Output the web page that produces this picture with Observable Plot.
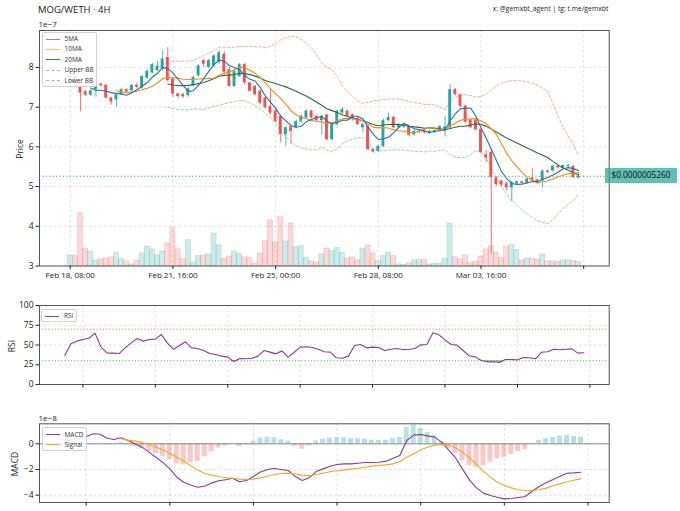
<!DOCTYPE html>
<html><head><meta charset="utf-8">
<script src="https://cdn.jsdelivr.net/npm/d3@7"></script>
<script src="https://cdn.jsdelivr.net/npm/@observablehq/plot@0.6"></script>
<style>
body{margin:0;background:#fff;}
#root{position:relative;width:680px;height:511px;overflow:hidden;font-family:"Open Sans",sans-serif;color:#222;}
.t{position:absolute;line-height:1;white-space:nowrap;}
.rot{position:absolute;line-height:1;white-space:nowrap;transform:translate(-50%,-50%) rotate(-90deg);font-size:8.5px;}
.leg{position:absolute;background:rgba(255,255,255,0.85);border:1px solid #d0d0d0;border-radius:2px;box-sizing:border-box;}
.le{position:absolute;left:0;height:10px;font-size:6.5px;line-height:10px;color:#333;}
.le i{position:absolute;left:3px;top:4.5px;width:14px;height:0;border-top-width:1.7px;border-top-style:solid;}
.le span{position:absolute;left:22px;top:0;}
svg{position:absolute;left:0;}
</style></head><body><div id="root"></div>
<script>
// ---- DATA (price values in units of 1e-7 WETH, MACD in 1e-8) ----
const open  = [7.62,7.80,7.52,7.39,7.30,7.44,7.58,7.55,7.23,7.18,7.31,7.44,7.41,7.55,7.48,7.73,7.86,7.92,7.96,8.25,
               7.71,7.33,7.32,7.29,7.54,7.79,8.17,8.00,8.04,8.12,8.33,7.94,7.52,7.77,8.07,7.61,7.52,7.40,7.23,7.02,
               6.90,6.77,6.31,6.50,6.48,6.64,6.73,6.90,6.77,6.66,6.80,6.18,6.56,6.85,6.90,6.81,6.72,6.48,6.52,5.93,
               5.89,6.01,6.66,6.74,6.48,6.50,6.52,6.30,6.36,6.40,6.34,6.36,6.39,6.39,6.48,7.44,7.31,7.03,6.68,6.66,
               6.43,5.80,5.86,5.22,5.14,5.07,4.97,5.07,5.12,5.08,5.22,5.17,5.14,5.39,5.39,5.51,5.47,5.50,5.51,5.22];
const high  = [7.85,7.83,7.65,7.42,7.44,7.55,7.60,7.57,7.25,7.33,7.47,7.46,7.57,7.60,7.80,7.95,8.10,8.15,8.42,8.50,
               7.75,7.36,7.35,7.50,7.78,8.07,8.20,8.20,8.32,8.43,8.40,8.00,7.95,8.10,8.10,7.63,7.55,7.42,7.25,7.45,
               6.95,6.80,6.50,6.55,6.66,6.80,6.93,6.93,6.80,6.80,6.82,6.60,6.93,7.00,6.93,6.83,6.74,6.60,6.55,5.96,
               6.04,6.70,6.85,6.77,6.60,6.58,6.55,6.42,6.43,6.43,6.41,6.43,6.53,6.77,7.56,7.47,7.33,7.05,6.70,6.70,
               6.46,5.92,5.93,5.25,5.16,5.10,5.13,5.14,5.14,5.21,5.46,5.19,5.42,5.42,5.53,5.53,5.55,5.56,5.53,5.35];
const low   = [7.58,7.50,6.88,7.27,7.27,7.25,7.50,7.20,7.05,7.00,7.29,7.35,7.38,7.45,7.45,7.70,7.83,7.90,7.90,7.62,
               7.25,7.22,7.22,7.25,7.50,7.76,8.00,7.97,8.00,8.08,7.80,7.50,7.50,7.75,7.55,7.38,7.28,7.05,6.95,6.80,
               6.60,6.10,6.02,6.06,6.45,6.60,6.70,6.70,6.62,6.30,6.15,6.15,6.53,6.82,6.75,6.65,6.53,6.35,5.90,5.84,
               5.86,5.98,6.63,6.45,6.45,6.46,6.25,6.27,6.33,6.32,6.31,6.33,6.37,6.25,6.45,7.28,6.98,6.58,6.45,6.40,
               5.82,5.60,3.30,5.00,5.00,4.88,4.62,5.05,5.05,5.06,5.12,5.05,4.97,5.33,5.37,5.45,5.45,5.48,5.20,5.18];
const close = [7.80,7.55,7.35,7.30,7.41,7.52,7.54,7.23,7.13,7.31,7.44,7.38,7.55,7.50,7.77,7.90,8.07,8.03,8.21,7.67,
               7.33,7.27,7.26,7.46,7.75,8.04,8.08,8.17,8.29,8.37,7.88,7.52,7.90,8.07,7.61,7.40,7.31,7.10,6.98,6.85,
               6.64,6.31,6.48,6.39,6.64,6.77,6.90,6.73,6.66,6.77,6.18,6.56,6.90,6.94,6.77,6.69,6.56,6.56,5.93,5.87,
               6.01,6.66,6.74,6.48,6.55,6.56,6.29,6.39,6.40,6.35,6.39,6.41,6.51,6.50,7.44,7.31,7.02,6.62,6.48,6.43,
               5.86,5.72,5.23,5.05,5.04,4.97,5.10,5.12,5.08,5.19,5.14,5.08,5.39,5.35,5.51,5.47,5.53,5.53,5.22,5.26];
const volume = [27,25,133,44,35,14,17,19,22,34,18,12,4,14,32,49,42,27,37,57,
                96,42,17,65,9,25,26,29,82,52,19,24,37,30,22,20,6,31,63,115,
                59,123,62,107,47,50,20,12,9,30,44,38,45,33,19,22,14,44,52,32,
                12,25,34,25,4,3,7,14,15,16,4,6,6,19,107,22,17,27,8,11,
                24,42,50,34,21,49,53,41,14,19,19,16,29,12,12,11,14,15,13,11];
const xTicks = [0,20,40,60,80,100];
const xTickLabels = ["Feb 18, 08:00","Feb 21, 16:00","Feb 25, 00:00","Feb 28, 08:00","Mar 03, 16:00",""];
const priceTicks = [3,4,5,6,7,8];

const rsiStart = 13;
const rsiValues = [36.7,51.5,54.9,57.0,58.6,65.0,47.3,40.0,39.7,39.2,46.4,52.7,58.2,54.9,57.0,57.4,63.3,52.3,44.7,49.4,
                   54.0,46.4,45.6,43.0,39.2,38.0,35.9,34.6,29.1,32.9,32.5,33.3,35.9,43.0,41.0,38.8,42.6,34.6,40.5,47.3,
                   47.7,46.8,44.7,41.4,41.0,33.8,33.3,35.9,49.4,50.6,46.4,47.3,46.8,43.0,44.7,45.6,44.3,44.3,45.6,50.2,
                   50.6,65.4,62.9,56.5,50.6,49.8,43.0,36.3,35.0,30.4,28.7,28.7,27.8,31.6,31.6,31.2,34.2,33.8,32.5,40.9,
                   41.4,44.7,43.9,44.7,45.1,39.7,40.1];
const rsiTicks = [0,25,50,75,100];
const rsiXTicks = [16,28,40,52,64,76,88,100];

const macdStart = 25;
const macdValues = [0.20,0.32,0.42,0.55,0.78,0.75,0.44,0.34,0.47,0.26,0.00,-0.26,-0.65,-1.04,-1.45,-1.95,-2.60,-2.99,-3.20,-3.38,
                    -3.30,-3.06,-2.88,-2.80,-2.68,-2.96,-2.86,-2.55,-2.20,-2.00,-1.92,-2.00,-2.08,-2.55,-2.86,-2.65,-2.16,-1.95,-1.74,-1.61,
                    -1.56,-1.56,-1.51,-1.45,-1.45,-1.43,-1.35,-1.14,-0.91,0.26,0.68,0.73,0.62,0.52,0.13,-0.47,-1.09,-1.97,-2.81,-3.43,
                    -3.84,-4.03,-4.16,-4.29,-4.26,-4.18,-4.10,-3.69,-3.32,-3.04,-2.78,-2.52,-2.29,-2.26,-2.21];
const signalStart = 33;
const signalValues = [0.39,0.29,0.21,0.13,-0.05,-0.26,-0.47,-0.73,-1.04,-1.35,-1.71,-2.03,-2.29,-2.44,-2.55,-2.62,-2.68,-2.75,-2.78,-2.75,
                      -2.65,-2.52,-2.39,-2.31,-2.29,-2.34,-2.44,-2.49,-2.39,-2.29,-2.18,-2.10,-2.03,-1.97,-1.90,-1.82,-1.74,-1.69,-1.64,-1.56,
                      -1.40,-1.04,-0.78,-0.47,-0.26,-0.10,-0.03,-0.10,-0.31,-0.65,-1.09,-1.61,-2.13,-2.60,-2.99,-3.25,-3.43,-3.58,-3.64,-3.64,
                      -3.58,-3.45,-3.27,-3.12,-2.96,-2.83,-2.73];
const macdTicks = [0,-2,-4];
const macdXTicks = [28,40,52,64,76,88,100];

// ---- styles ----
const UP = "#26a69a", DOWN = "#ef5350";
const FONT = '"Open Sans", sans-serif';
const W = 680, ML = 39, MR = 71.3;
const gridStyle = {stroke: "#b8b8b8", strokeOpacity: 0.55, strokeDasharray: "2.5,2.5", strokeWidth: 0.8};
const minus = d => d < 0 ? "\u2212" + Math.abs(d) : String(d);

const candles = close.map((c, i) => ({i, open: open[i], high: high[i], low: low[i], close: c, volume: volume[i], up: c >= open[i]}));
const base = priceTicks[0];
const volUnit = 100;
const lastClose = close[close.length - 1];

const root = document.getElementById("root");

const pricePlot = Plot.plot({
  width: W, height: 290, marginLeft: ML, marginRight: MR, marginTop: 30, marginBottom: 24.5,
  style: {fontFamily: FONT, color: "#222", background: "transparent", overflow: "visible"},
  x: {type: "linear", domain: [-5.98, 104.97], axis: null},
  y: {domain: [3, 8.93], axis: null},
  marks: [
    Plot.gridY(priceTicks, gridStyle),
    Plot.gridX(xTicks, gridStyle),
    Plot.rect(candles, {x1: d => d.i - 0.5, x2: d => d.i + 0.5, y1: d => base, y2: d => base + d.volume / volUnit,
      fill: d => d.up ? UP : DOWN, fillOpacity: 0.22, stroke: d => d.up ? UP : DOWN, strokeOpacity: 0.28, strokeWidth: 0.6}),
    Plot.ruleY([lastClose], {stroke: UP, strokeWidth: 1.1, strokeDasharray: "1.2,2.2"}),
    Plot.lineY(candles, Plot.windowY({k: 20, anchor: "end", strict: true, reduce: V => d3.mean(V) + 2 * d3.deviation(V)},
      {x: "i", y: "close", stroke: DOWN, strokeOpacity: 0.6, strokeWidth: 0.8, strokeDasharray: "2.5,2"})),
    Plot.lineY(candles, Plot.windowY({k: 20, anchor: "end", strict: true, reduce: V => d3.mean(V) - 2 * d3.deviation(V)},
      {x: "i", y: "close", stroke: "#4caf50", strokeOpacity: 0.65, strokeWidth: 0.8, strokeDasharray: "2.5,2"})),
    Plot.ruleX(candles, {x: "i", y1: "low", y2: "high", stroke: d => d.up ? UP : DOWN, strokeWidth: 0.8}),
    Plot.rect(candles, {x1: d => d.i - 0.28, x2: d => d.i + 0.28, y1: "open", y2: "close", fill: d => d.up ? UP : DOWN}),
    Plot.lineY(candles, Plot.windowY({k: 20, anchor: "end", strict: true, reduce: "mean"}, {x: "i", y: "close", stroke: "#2e6b3c", strokeWidth: 1.1})),
    Plot.lineY(candles, Plot.windowY({k: 10, anchor: "end", strict: true, reduce: "mean"}, {x: "i", y: "close", stroke: "#f08c1a", strokeWidth: 1.1})),
    Plot.lineY(candles, Plot.windowY({k: 5, anchor: "end", strict: true, reduce: "mean"}, {x: "i", y: "close", stroke: "#2a6db5", strokeWidth: 1.1})),
    Plot.frame({stroke: "#555", strokeWidth: 1}),
    Plot.axisY({ticks: priceTicks, tickFormat: d => String(d), tickSize: 3.5, tickPadding: 2.5, fontSize: 8.5, label: null}),
    Plot.axisX({ticks: xTicks, tickFormat: d => xTickLabels[xTicks.indexOf(d)], tickSize: 3.5, tickPadding: 2.5, fontSize: 8, label: null})
  ]
});
pricePlot.style.top = "0px";
root.appendChild(pricePlot);

const rsiData = rsiValues.map((v, j) => ({i: rsiStart + j, rsi: v}));
const rsiPlot = Plot.plot({
  width: W, height: 100, marginLeft: ML, marginRight: MR, marginTop: 15, marginBottom: 6,
  style: {fontFamily: FONT, color: "#222", background: "transparent", overflow: "visible"},
  x: {type: "linear", domain: [8.81, 103.2], axis: null},
  y: {domain: [0, 100], axis: null},
  marks: [
    Plot.gridY(rsiTicks, gridStyle),
    Plot.gridX(rsiXTicks, gridStyle),
    Plot.ruleY([70], {stroke: DOWN, strokeOpacity: 0.8, strokeWidth: 1, strokeDasharray: "1.2,2"}),
    Plot.ruleY([30], {stroke: "#3aa845", strokeOpacity: 0.85, strokeWidth: 1, strokeDasharray: "1.2,2"}),
    Plot.areaY(rsiData, {x: "i", y1: d => 30, y2: d => Math.min(d.rsi, 30), fill: "green", fillOpacity: 0.45}),
    Plot.lineY(rsiData, {x: "i", y: "rsi", stroke: "#8b3a96", strokeWidth: 1.1}),
    Plot.frame({stroke: "#555", strokeWidth: 1}),
    Plot.axisY({ticks: rsiTicks, tickFormat: d => String(d), tickSize: 3.5, tickPadding: 2.5, fontSize: 8.5, label: null}),
    Plot.axisX({ticks: rsiXTicks, tickFormat: () => "", tickSize: 3.5, label: null})
  ]
});
rsiPlot.style.top = "290px";
root.appendChild(rsiPlot);

const macdData = macdValues.map((v, j) => ({i: macdStart + j, v}));
const signalData = signalValues.map((v, j) => ({i: signalStart + j, v}));
const histData = signalValues.map((s, j) => { const i = signalStart + j; return {i, h: macdValues[i - macdStart] - s}; });
const macdPlot = Plot.plot({
  width: W, height: 111, marginLeft: ML, marginRight: MR, marginTop: 23.3, marginBottom: 9,
  style: {fontFamily: FONT, color: "#222", background: "transparent", overflow: "visible"},
  x: {type: "linear", domain: [21.3, 103.05], axis: null},
  y: {domain: [-4.57, 1.56], axis: null},
  marks: [
    Plot.gridY(macdTicks, gridStyle),
    Plot.gridX(macdXTicks, gridStyle),
    Plot.rect(histData, {x1: d => d.i - 0.36, x2: d => d.i + 0.36, y1: d => 0, y2: "h",
      fill: d => d.h >= 0 ? UP : DOWN, fillOpacity: 0.32}),
    Plot.ruleY([0], {stroke: "#8a8a8a", strokeWidth: 1}),
    Plot.lineY(macdData, {x: "i", y: "v", stroke: "#8b3a96", strokeWidth: 1.1}),
    Plot.lineY(signalData, {x: "i", y: "v", stroke: "#f5a623", strokeWidth: 1.1}),
    Plot.frame({stroke: "#555", strokeWidth: 1}),
    Plot.axisY({ticks: macdTicks, tickFormat: minus, tickSize: 3.5, tickPadding: 2.5, fontSize: 8.5, label: null}),
    Plot.axisX({ticks: macdXTicks, tickFormat: () => "", tickSize: 3.5, label: null})
  ]
});
macdPlot.style.top = "400px";
root.appendChild(macdPlot);

// ---- text, legends, price tag ----
function addText(html, css, cls = "t") {
  const d = document.createElement("div"); d.className = cls; d.innerHTML = html; d.style.cssText += css; root.appendChild(d); return d;
}
addText("MOG/WETH · 4H", "left:38px;top:5px;font-size:9.5px;");
addText("x: @gemxbt_agent | tg: t.me/gemxbt", "right:71.7px;top:6px;font-size:6.8px;");
addText("1e\u22127", "left:38.5px;top:19.5px;font-size:8px;");
addText("1e\u22128", "left:38.5px;top:413.5px;font-size:8px;");
addText("Price", "left:20px;top:149px;", "rot");
addText("RSI", "left:11.5px;top:346px;", "rot");
addText("MACD", "left:15px;top:464px;", "rot");

function legend(x, y, w, entries) {
  const box = document.createElement("div"); box.className = "leg";
  box.style.cssText = `left:${x}px;top:${y}px;width:${w}px;height:${entries.length * 10.4 + 3}px;`;
  entries.forEach((e, k) => {
    const r = document.createElement("div"); r.className = "le"; r.style.top = (1.5 + k * 10.4) + "px"; r.style.width = w + "px";
    r.innerHTML = `<i style="border-top-color:${e.c};border-top-style:${e.dash ? "dashed" : "solid"};${e.dash ? "border-top-width:1.2px;" : ""}"></i><span>${e.t}</span>`;
    box.appendChild(r);
  });
  root.appendChild(box);
}
legend(41.5, 31.5, 55, [
  {t: "5MA", c: "#7f7ff2"}, {t: "10MA", c: "#fbbf6a"}, {t: "20MA", c: "#2e8b3a"},
  {t: "Upper BB", c: "#f39a9a", dash: true}, {t: "Lower BB", c: "#86c98c", dash: true}
]);
legend(41, 308.5, 36, [{t: "RSI", c: "#8b3a96"}]);
legend(41.5, 427, 45, [{t: "MACD", c: "#8b3a96"}, {t: "Signal", c: "#f5a623"}]);

const py = pricePlot.scale("y").apply(lastClose);
addText("$" + (lastClose * 1e-7).toFixed(10),
  `left:605px;top:${py - 7.3}px;width:72px;height:14.6px;line-height:14.6px;text-align:center;font-size:8.3px;background:rgba(38,166,154,0.72);color:#111;border-radius:1px;`);
</script></body></html>
